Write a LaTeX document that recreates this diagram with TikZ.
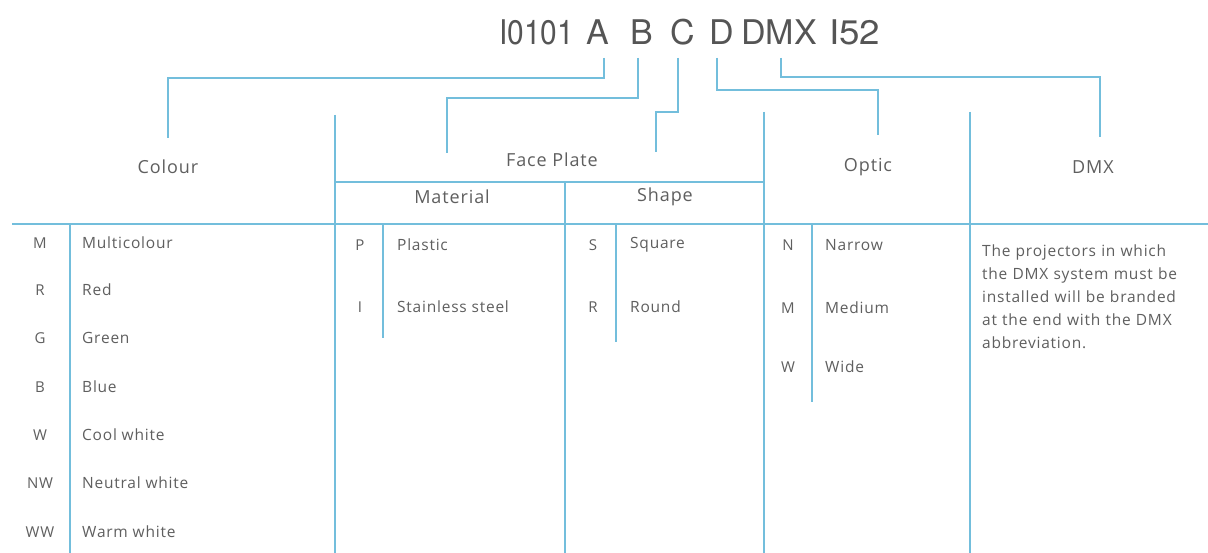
\documentclass[tikz,border=0pt]{standalone}
\usepackage{fontspec}
\setmainfont[LetterSpace=5]{Open Sans}
\newfontfamily\titlefont{TeX Gyre Heros}
\definecolor{ln}{RGB}{115,190,220}
\definecolor{tx}{RGB}{95,95,95}
\definecolor{tt}{RGB}{85,85,85}
\begin{document}
\begin{tikzpicture}[x=1pt,y=-1pt,
  conn/.style={draw=ln,line width=1.4pt},
  grid/.style={draw=ln,line width=1.4pt},
  tl/.style={font=\titlefont\fontsize{34}{38}\selectfont,text=tt,inner sep=0pt,anchor=base west},
  hd/.style={font=\fontsize{18}{20}\selectfont,text=tx,inner sep=0pt},
  code/.style={font=\fontsize{15}{17}\selectfont,text=tx,inner sep=0pt},
  item/.style={font=\fontsize{15.5}{17}\selectfont,text=tx,inner sep=0pt,anchor=west}]
\useasboundingbox (0,0) rectangle (1208,553);
\fill[white] (0,0) rectangle (1208,553);
% title
\node[tl] (t0) at (499,45) {\scalebox{0.88}[1]{I0101}};
\node[tl] (tA) at (586,45) {A};
\node[tl] (tB) at (630,45) {B};
\node[tl] (tC) at (670,45) {C};
\node[tl] (tD) at (709,45) {D};
\node[tl] (tDMX) at (741,45) {DMX};
\node[tl] (tI) at (829,45) {\scalebox{1.08}[1]{I52}};
% connector starts (just below the letters) and bend levels
\path (604,58) coordinate (sA) (638,58) coordinate (sB) (678,58) coordinate (sC)
      (717,58) coordinate (sD) (781,58) coordinate (sX);
\path (0,78) coordinate (yA) (0,98) coordinate (yB) (0,112) coordinate (yC)
      (0,90) coordinate (yD) (0,77) coordinate (yX);
% header targets
\coordinate (cCol) at (168,138);
\coordinate (cMat) at (447,153);
\coordinate (cShp) at (656,152);
\coordinate (cOpt) at (878,135);
\coordinate (cDmx) at (1100,137);
% connectors
\draw[conn] (sA) -- (sA |- yA) -| (cCol);
\draw[conn] (sB) -- (sB |- yB) -| (cMat);
\draw[conn] (sC) -- (sC |- yC) -| (cShp);
\draw[conn] (sD) -- (sD |- yD) -| (cOpt);
\draw[conn] (sX) -- (sX |- yX) -| (cDmx);
% grid
\draw[grid] (12,224) -- (1208,224);
\draw[grid] (335,115) -- (335,553);
\draw[grid] (764,112) -- (764,553);
\draw[grid] (970,112) -- (970,553);
\draw[grid] (335,182) -- (764,182);
\draw[grid] (565,182) -- (565,553);
\draw[grid] (70,224) -- (70,553);
\draw[grid] (383,224) -- (383,338);
\draw[grid] (616,224) -- (616,342);
\draw[grid] (812,224) -- (812,402);
% headers
\node[hd] (hCol) at (168,167) {Colour};
\node[hd] (hFP) at (552,160) {Face Plate};
\node[hd] (hMat) at (452,197) {Material};
\node[hd] (hShp) at (665,197) {Shape};
\node[hd] (hOpt) at (868,167) {Optic};
\node[hd] (hDmx) at (1093,167) {DMX};
% colour items
\foreach \c/\t/\y [count=\i] in {M/Multicolour/243,R/Red/290,G/Green/338,B/Blue/387,W/Cool white/435,NW/Neutral white/483,WW/Warm white/532}{
  \node[code] (colc\i) at (40,\y) {\c};
  \node[item] (colt\i) at (82,\y) {\t};
}
\foreach \c/\t/\y [count=\i] in {P/Plastic/245,I/Stainless steel/307}{
  \node[code] (matc\i) at (360,\y) {\c};
  \node[item] (matt\i) at (397,\y) {\t};
}
\foreach \c/\t/\y [count=\i] in {S/Square/245,R/Round/307}{
  \node[code] (shpc\i) at (593,\y) {\c};
  \node[item] (shpt\i) at (630,\y) {\t};
}
\foreach \c/\t/\y [count=\i] in {N/Narrow/245,M/Medium/308,W/Wide/367}{
  \node[code] (optc\i) at (788,\y) {\c};
  \node[item] (optt\i) at (825,\y) {\t};
}
\node[font=\fontsize{15.5}{23}\selectfont,text=tx,inner sep=0pt,anchor=north west,text width=226pt,align=left] (desc) at (982,245)
 {The projectors in which\\the DMX system must be\\installed will be branded\\at the end with the DMX\\abbreviation.};
\end{tikzpicture}
\end{document}
